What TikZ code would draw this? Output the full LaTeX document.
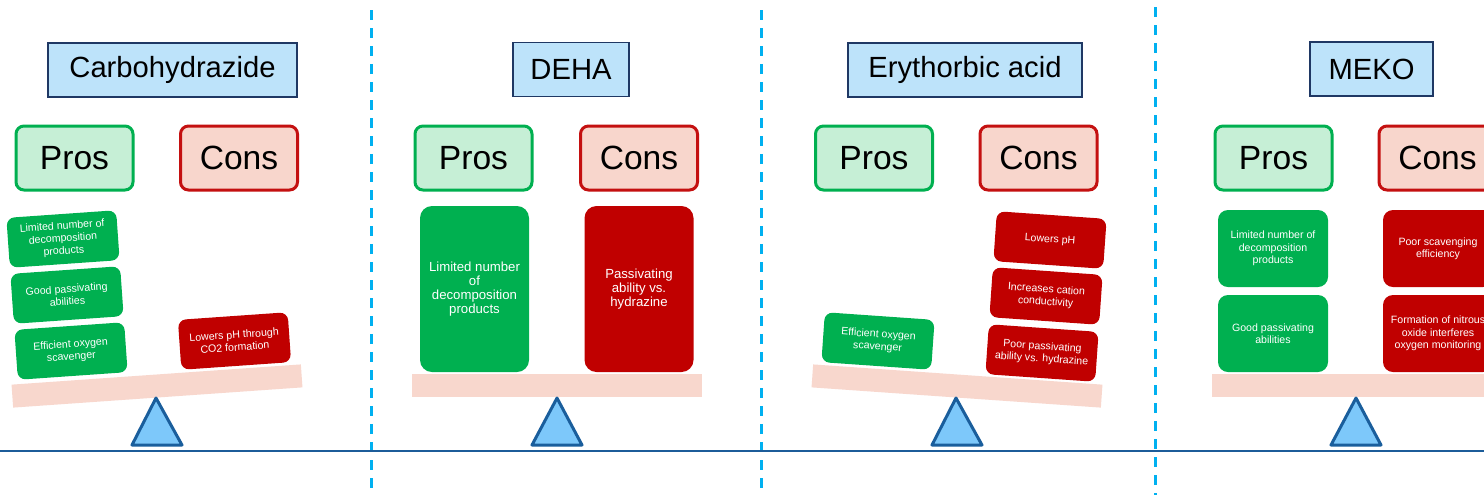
\documentclass[tikz,border=0pt]{standalone}
\usepackage{fontspec}
\setmainfont{Liberation Sans}
\definecolor{titlefill}{RGB}{189,227,250}
\definecolor{titleline}{RGB}{31,56,100}
\definecolor{prosfill}{RGB}{198,239,214}
\definecolor{prosline}{RGB}{0,176,80}
\definecolor{consfill}{RGB}{248,214,204}
\definecolor{consline}{RGB}{196,16,16}
\definecolor{itemgreen}{RGB}{0,176,80}
\definecolor{itemred}{RGB}{192,0,0}
\definecolor{beamfill}{RGB}{248,215,205}
\definecolor{pivotfill}{RGB}{125,200,250}
\definecolor{pivotline}{RGB}{26,94,156}
\definecolor{dashcol}{RGB}{0,176,240}
\definecolor{hlinecol}{RGB}{28,92,153}
\begin{document}
\begin{tikzpicture}[x=0.5pt,y=-0.5pt,
  titlebox/.style={draw=titleline, fill=titlefill, line width=0.75pt, minimum height=27pt, inner sep=0pt, font=\fontsize{14.6}{16}\selectfont},
  prosbox/.style={draw=prosline, fill=prosfill, line width=1.5pt, rounded corners=4pt, minimum width=58.5pt, minimum height=32pt, inner sep=0pt, font=\fontsize{16.8}{18}\selectfont},
  consbox/.style={draw=consline, fill=consfill, line width=1.5pt, rounded corners=4pt, minimum width=58.5pt, minimum height=32pt, inner sep=0pt, font=\fontsize{16.8}{18}\selectfont},
  itembox/.style={text=white, rounded corners=4pt, minimum width=55pt, minimum height=25pt, inner sep=0pt, align=center, font=\fontsize{5.3}{6.2}\selectfont},
  gitem/.style={itembox, fill=itemgreen},
  ritem/.style={itembox, fill=itemred},
  tallitem/.style={minimum height=83pt, rounded corners=6pt, font=\fontsize{6.6}{7.1}\selectfont},
  mekoitem/.style={minimum height=38.5pt, rounded corners=5pt},
  beam/.style={fill=beamfill, minimum width=145pt, minimum height=11.5pt, inner sep=0pt},
  pivot/.style={draw=pivotline, fill=pivotfill, line width=1.5pt, line join=round},
  divider/.style={draw=dashcol, line width=1.5pt, dash pattern=on 5pt off 4pt},
  baseline/.style={draw=hlinecol, line width=1pt}
]
\useasboundingbox (0,0) rectangle (1484,495);
\clip (0,0) rectangle (1484,495);
\fill[white] (0,0) rectangle (1484,495);

% dividers and ground line
\coordinate (d1t) at (371,10); \coordinate (d1b) at (371,495);
\coordinate (d2t) at (761,10); \coordinate (d2b) at (761,495);
\coordinate (d3t) at (1155,7); \coordinate (d3b) at (1155,495);
\draw[divider] (d1t) -- (d1b);
\draw[divider] (d2t) -- (d2b);
\draw[divider] (d3t) -- (d3b);
\coordinate (gl) at (0,451); \coordinate (gr) at (1484,451);
\draw[baseline] (gl) -- (gr);

% ---------- Panel 1: Carbohydrazide ----------
\node[titlebox, minimum width=124.5pt] (t1) at (172.5,70) {Carbohydrazide};
\node[prosbox] (p1) at (74.5,158) {Pros};
\node[consbox] (c1) at (239,158) {Cons};
\node[beam, rotate=4] (b1) at (157,386) {};
\draw[pivot] (132,445) -- (156,398) -- (182,445) -- cycle;
\node[gitem, rotate=4] (p1a) at (63,239) {Limited number of\\decomposition\\products};
\node[gitem, rotate=4] (p1b) at (67,295) {Good passivating\\abilities};
\node[gitem, rotate=4] (p1c) at (71,351) {Efficient oxygen\\scavenger};
\node[ritem, rotate=4] (c1a) at (234.5,341) {Lowers pH through\\CO2 formation};

% ---------- Panel 2: DEHA ----------
\node[titlebox, minimum width=58pt] (t2) at (571,69.5) {DEHA};
\node[prosbox] (p2) at (473.5,158) {Pros};
\node[consbox] (c2) at (639,158) {Cons};
\node[beam] (b2) at (557,385.5) {};
\draw[pivot] (532,445) -- (557,398) -- (582,445) -- cycle;
\node[gitem, tallitem, minimum width=54.5pt] (p2a) at (474.5,289) {Limited number\\of\\decomposition\\products};
\node[ritem, tallitem, minimum width=54.5pt] (c2a) at (639,289) {Passivating\\ability vs.\\hydrazine};

% ---------- Panel 3: Erythorbic acid ----------
\node[titlebox, minimum width=117pt] (t3) at (965,70) {Erythorbic acid};
\node[prosbox] (p3) at (874,158) {Pros};
\node[consbox] (c3) at (1038.5,158) {Cons};
\node[beam, rotate=-4] (b3) at (957,386) {};
\draw[pivot] (932,445) -- (956,398) -- (982,445) -- cycle;
\node[gitem, rotate=-4] (p3a) at (878,341) {Efficient oxygen\\scavenger};
\node[ritem, rotate=-4] (c3a) at (1050,240) {Lowers pH};
\node[ritem, rotate=-4] (c3b) at (1046,296) {Increases cation\\conductivity};
\node[ritem, rotate=-4] (c3c) at (1042,353) {Poor passivating\\ability vs. hydrazine};

% ---------- Panel 4: MEKO ----------
\node[titlebox, minimum width=61.5pt] (t4) at (1371.5,69) {MEKO};
\node[prosbox] (p4) at (1273.5,158) {Pros};
\node[consbox] (c4) at (1437.5,158) {Cons};
\node[beam] (b4) at (1357,385.5) {};
\draw[pivot] (1331,445) -- (1356,398) -- (1381,445) -- cycle;
\node[gitem, mekoitem] (p4a) at (1273,248.5) {Limited number of\\decomposition\\products};
\node[gitem, mekoitem] (p4b) at (1273,333.5) {Good passivating\\abilities};
\node[ritem, mekoitem] (c4a) at (1438,248.5) {Poor scavenging\\efficiency};
\node[ritem, mekoitem] (c4b) at (1438,333.5) {Formation of nitrous\\oxide interferes\\oxygen monitoring};
\end{tikzpicture}
\end{document}
